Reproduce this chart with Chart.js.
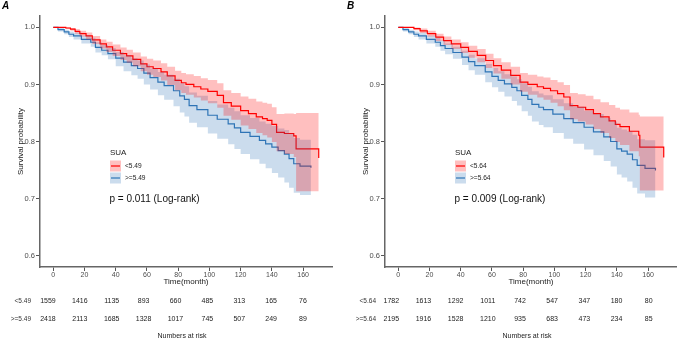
<!DOCTYPE html>
<html><head><meta charset="utf-8">
<script src="https://cdn.jsdelivr.net/npm/chart.js@4.4.0/dist/chart.umd.min.js"></script>
<style>
html,body{margin:0;padding:0;background:#fff;overflow:hidden}
#wrap{position:relative;width:677px;height:339px;background:#fff}
.p{position:absolute;top:0;height:339px}
#pa{left:0;width:338px}
#pb{left:338px;width:339px}
</style></head><body>
<div id="wrap"><div class="p" id="pa"><canvas id="ca"></canvas></div><div class="p" id="pb"><canvas id="cb"></canvas></div></div>
<script>
// ---------- shared axis data ----------
const timeTicks = [0, 20, 40, 60, 80, 100, 120, 140, 160];
const survTicks = [0.6, 0.7, 0.8, 0.9, 1.0];
const riskTimes = [0, 20, 40, 60, 80, 100, 120, 140, 160];
const legendTitle = 'SUA';

// ---------- Panel A ----------
const A_groups = ['<5.49', '>=5.49'];
const A_pval = 'p = 0.011 (Log-rank)';
const A_riskLow = [1559, 1416, 1135, 893, 660, 485, 313, 165, 76];
const A_riskHigh = [2418, 2113, 1685, 1328, 1017, 745, 507, 249, 89];

const A_lowTime = [0,4,8,11,14,17,21,25,30,34,38,43,47,51,56,60,64,69,73,78,82,85,90,94.5,99,105,109,114,120,125,130,134,137,140,143,148,154,155.5,170];
const A_lowSurv = [1.000,1.000,0.999,0.997,0.993,0.989,0.985,0.978,0.971,0.966,0.960,0.954,0.950,0.944,0.936,0.931,0.928,0.922,0.915,0.907,0.903,0.900,0.896,0.892,0.888,0.881,0.868,0.862,0.854,0.849,0.843,0.840,0.837,0.830,0.816,0.814,0.810,0.787,0.771];
const A_lowUpper = [1.000,1.000,1.000,0.999,0.997,0.994,0.991,0.985,0.979,0.975,0.970,0.965,0.961,0.956,0.949,0.945,0.942,0.937,0.931,0.924,0.920,0.918,0.915,0.911,0.908,0.902,0.890,0.885,0.879,0.875,0.870,0.868,0.866,0.860,0.848,0.849,0.848,0.850,0.849];
const A_lowLower = [1.000,1.000,0.997,0.994,0.989,0.984,0.979,0.971,0.963,0.957,0.950,0.943,0.938,0.932,0.923,0.917,0.913,0.907,0.899,0.890,0.885,0.882,0.877,0.872,0.867,0.859,0.845,0.838,0.828,0.822,0.815,0.811,0.807,0.799,0.783,0.778,0.773,0.713,0.700];

const A_highTime = [0,3,7,10,13,18,24,27,31,35,40,45,50,54,58,62,67,71,77,81,84,87,92,99,105,112,116,120,126,132,136,140,144,148,151,154,158,165];
const A_highSurv = [1.000,0.996,0.992,0.988,0.985,0.979,0.974,0.965,0.960,0.954,0.946,0.939,0.933,0.928,0.920,0.912,0.904,0.898,0.889,0.880,0.874,0.863,0.856,0.846,0.839,0.831,0.824,0.816,0.809,0.802,0.796,0.790,0.784,0.778,0.770,0.761,0.757,0.754];
const A_highUpper = [1.000,0.999,0.996,0.993,0.991,0.986,0.982,0.974,0.969,0.964,0.957,0.951,0.946,0.942,0.935,0.928,0.922,0.917,0.910,0.902,0.897,0.886,0.880,0.871,0.865,0.859,0.853,0.846,0.841,0.835,0.831,0.827,0.823,0.820,0.814,0.806,0.803,0.800];
const A_highLower = [1.000,0.993,0.988,0.983,0.979,0.972,0.966,0.956,0.951,0.944,0.932,0.923,0.916,0.910,0.900,0.891,0.881,0.873,0.862,0.851,0.844,0.833,0.825,0.814,0.805,0.795,0.787,0.778,0.769,0.761,0.753,0.745,0.737,0.728,0.719,0.710,0.706,0.704];

// ---------- Panel B ----------
const B_groups = ['<5.64', '>=5.64'];
const B_pval = 'p = 0.009 (Log-rank)';
const B_riskLow = [1782, 1613, 1292, 1011, 742, 547, 347, 180, 80];
const B_riskHigh = [2195, 1916, 1528, 1210, 935, 683, 473, 234, 85];

const B_lowTime = [0,5,10,14,18.6,24,29,34,40,45,50.6,56,61,66,72,78,83,89,93,97.5,102,106,110,115,120,125,129.5,135,139,142,148,154,154.7,170];
const B_lowSurv = [1.000,1.000,0.998,0.994,0.989,0.983,0.977,0.971,0.965,0.958,0.951,0.942,0.933,0.925,0.916,0.904,0.900,0.896,0.893,0.889,0.884,0.878,0.863,0.860,0.856,0.849,0.843,0.836,0.830,0.826,0.818,0.811,0.790,0.772];
const B_lowUpper = [1.000,1.000,1.000,0.998,0.994,0.989,0.984,0.979,0.974,0.968,0.962,0.954,0.946,0.939,0.931,0.920,0.917,0.914,0.912,0.908,0.904,0.899,0.885,0.883,0.880,0.874,0.869,0.864,0.859,0.856,0.851,0.847,0.844,0.843];
const B_lowLower = [1.000,1.000,0.995,0.990,0.984,0.976,0.969,0.962,0.955,0.947,0.939,0.929,0.919,0.910,0.900,0.887,0.882,0.877,0.873,0.868,0.862,0.855,0.839,0.835,0.830,0.822,0.815,0.806,0.799,0.794,0.783,0.774,0.714,0.708];

const B_highTime = [0,3,6.6,10,13,18,23.7,27,30,35,40.8,45,49,55.7,60,64,68,72.7,76,79,83,85.6,90,93,99,106,112,119,125,131.6,136,140,143,146.6,150,153,158,164.7];
const B_highSurv = [1.000,0.996,0.992,0.988,0.985,0.979,0.974,0.968,0.963,0.956,0.948,0.940,0.933,0.922,0.914,0.907,0.901,0.895,0.889,0.881,0.874,0.865,0.860,0.856,0.848,0.840,0.833,0.825,0.817,0.808,0.800,0.787,0.783,0.778,0.768,0.758,0.753,0.749];
const B_highUpper = [1.000,0.999,0.996,0.993,0.991,0.986,0.982,0.977,0.972,0.966,0.959,0.952,0.946,0.936,0.929,0.923,0.918,0.914,0.909,0.902,0.896,0.888,0.884,0.881,0.874,0.867,0.861,0.854,0.848,0.841,0.835,0.824,0.821,0.818,0.812,0.804,0.802,0.800];
const B_highLower = [1.000,0.993,0.988,0.983,0.979,0.972,0.966,0.959,0.953,0.945,0.934,0.925,0.917,0.904,0.895,0.887,0.879,0.871,0.863,0.853,0.845,0.835,0.829,0.825,0.815,0.805,0.796,0.786,0.776,0.766,0.756,0.742,0.737,0.730,0.719,0.709,0.702,0.697];

// ---------- styling ----------
const RED = '#FF0000', RED_FILL = 'rgba(255,0,0,0.25)';
const BLUE = 'rgb(46,117,182)', BLUE_FILL = 'rgba(46,117,182,0.25)';
const FONT = 'Liberation Sans, Arial, sans-serif';
Chart.defaults.font.family = FONT;

function pts(t, s) { return t.map((v, i) => ({ x: v, y: s[i] })); }

function makePanel(canvasId, P) {
  const extras = {
    id: 'extras',
    afterDraw(chart) {
      const ctx = chart.ctx, ca = chart.chartArea, xr = chart.scales.xr;
      const L = ca.left, cx = (ca.left + ca.right) / 2;
      ctx.save();
      // panel letter
      ctx.fillStyle = '#000';
      ctx.font = 'italic bold 10px ' + FONT;
      ctx.textAlign = 'left'; ctx.textBaseline = 'alphabetic';
      ctx.fillText(P.letter, P.letterX, 9);
      // y title
      ctx.save();
      ctx.translate(L - 19, (ca.top + ca.bottom) / 2);
      ctx.rotate(-Math.PI / 2);
      ctx.font = '8px ' + FONT; ctx.fillStyle = '#222';
      ctx.textAlign = 'center'; ctx.textBaseline = 'middle';
      ctx.fillText('Survival probability', 0, 0);
      ctx.restore();
      // x title
      ctx.font = '8px ' + FONT; ctx.fillStyle = '#222';
      ctx.textAlign = 'center'; ctx.textBaseline = 'middle';
      ctx.fillText('Time(month)', cx, ca.bottom + 15);
      // legend
      const lx = L + 70;
      ctx.textAlign = 'left';
      ctx.font = '8px ' + FONT; ctx.fillStyle = '#222';
      ctx.fillText(legendTitle, lx, 153);
      const keys = [[RED, RED_FILL, 166], [BLUE, BLUE_FILL, 178]];
      keys.forEach((k, i) => {
        ctx.fillStyle = k[1];
        ctx.fillRect(lx, k[2] - 5.5, 11, 11);
        ctx.strokeStyle = k[0]; ctx.lineWidth = 1.2;
        ctx.beginPath(); ctx.moveTo(lx + 1, k[2]); ctx.lineTo(lx + 10, k[2]); ctx.stroke();
        ctx.fillStyle = '#222'; ctx.font = '6.6px ' + FONT;
        ctx.fillText(P.groups[i], lx + 15, k[2]);
      });
      // p value
      ctx.font = '10px ' + FONT; ctx.fillStyle = '#111';
      ctx.fillText(P.pval, L + 69.5, 199);
      // risk table
      const rows = [[P.riskLow, ca.bottom + 34], [P.riskHigh, ca.bottom + 52]];
      rows.forEach((r, i) => {
        ctx.font = '6.5px ' + FONT; ctx.fillStyle = '#333'; ctx.textAlign = 'right';
        ctx.fillText(P.groups[i], L - 9, r[1]);
        ctx.font = '7px ' + FONT; ctx.fillStyle = '#222'; ctx.textAlign = 'center';
        riskTimes.forEach((t, j) => ctx.fillText(String(r[0][j]), xr.getPixelForValue(t), r[1]));
      });
      ctx.font = '7px ' + FONT; ctx.fillStyle = '#222'; ctx.textAlign = 'center';
      ctx.fillText('Numbers at risk', cx - 4, 336);
      ctx.restore();
    }
  };
  const band = (t, s, col) => ({ data: pts(t, s), stepped: true, borderWidth: 0, pointRadius: 0, backgroundColor: col, order: 0 });
  return new Chart(document.getElementById(canvasId), {
    type: 'line',
    data: {
      datasets: [
        Object.assign(band(P.lowTime, P.lowUpper, RED_FILL), { fill: '+1' }),
        Object.assign(band(P.lowTime, P.lowLower, RED_FILL), { fill: false }),
        Object.assign(band(P.highTime, P.highUpper, BLUE_FILL), { fill: '+1' }),
        Object.assign(band(P.highTime, P.highLower, BLUE_FILL), { fill: false }),
        { data: pts(P.lowTime, P.lowSurv), stepped: true, borderColor: RED, borderWidth: 1.2, pointRadius: 0, fill: false, order: 1 },
        { data: pts(P.highTime, P.highSurv), stepped: true, borderColor: BLUE, borderWidth: 1.2, pointRadius: 0, fill: false, order: 1 }
      ]
    },
    options: {
      responsive: true, maintainAspectRatio: false, animation: false,
      layout: { padding: { top: 16, right: P.padRight, left: 0, bottom: 0 } },
      plugins: { legend: { display: false }, tooltip: { enabled: false } },
      scales: {
        x: {
          type: 'linear', min: -8.5, max: 178.5,
          afterBuildTicks: s => { s.ticks = timeTicks.map(v => ({ value: v })); },
          afterFit: s => { s.height = 72; },
          grid: { drawOnChartArea: false, drawTicks: true, tickLength: 4, tickColor: '#555', tickWidth: 1 },
          border: { display: true, color: '#666', width: 1.5 },
          ticks: { font: { size: 7 }, color: '#4d4d4d', padding: 0, maxRotation: 0, autoSkip: false },
          title: { display: false }
        },
        xr: { type: 'linear', axis: 'x', display: false, min: P.riskMin, max: P.riskMax },
        y: {
          type: 'linear', min: 0.58, max: 1.02,
          afterBuildTicks: s => { s.ticks = survTicks.map(v => ({ value: v })); },
          afterFit: s => { s.width = P.yWidth; },
          grid: { drawOnChartArea: false, drawTicks: true, tickLength: 4, tickColor: '#555', tickWidth: 1 },
          border: { display: true, color: '#666', width: 1.5 },
          ticks: { font: { size: 7.5 }, color: '#4d4d4d', padding: 1, callback: v => Number(v).toFixed(1) },
          title: { display: false }
        }
      }
    },
    plugins: [extras]
  });
}

makePanel('ca', {
  letter: 'A', letterX: 2, groups: A_groups, pval: A_pval, riskLow: A_riskLow, riskHigh: A_riskHigh,
  lowTime: A_lowTime, lowSurv: A_lowSurv, lowUpper: A_lowUpper, lowLower: A_lowLower,
  highTime: A_highTime, highSurv: A_highSurv, highUpper: A_highUpper, highLower: A_highLower,
  yWidth: 40, padRight: 6, riskMin: -5.0, riskMax: 178.2
});
makePanel('cb', {
  letter: 'B', letterX: 9, groups: B_groups, pval: B_pval, riskLow: B_riskLow, riskHigh: B_riskHigh,
  lowTime: B_lowTime, lowSurv: B_lowSurv, lowUpper: B_lowUpper, lowLower: B_lowLower,
  highTime: B_highTime, highSurv: B_highSurv, highUpper: B_highUpper, highLower: B_highLower,
  yWidth: 47, padRight: 0, riskMin: -3.9, riskMax: 177.6
});
</script>
</body></html>
